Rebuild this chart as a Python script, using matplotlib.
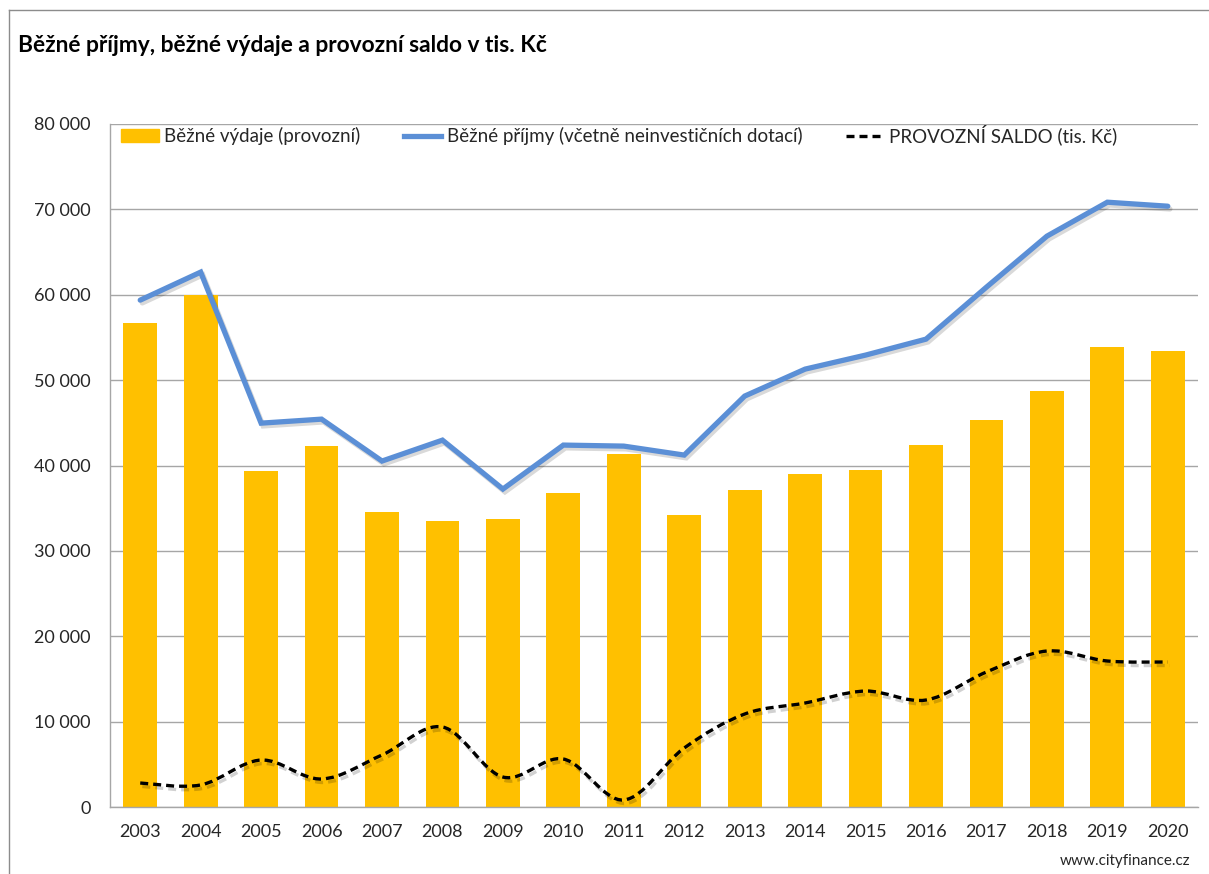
import numpy as np
import matplotlib
matplotlib.use("Agg")
import matplotlib.pyplot as plt
from matplotlib.path import Path
from matplotlib.patches import PathPatch
from matplotlib.lines import Line2D
from matplotlib.ticker import FuncFormatter
import matplotlib.patheffects as pe

plt.rcParams['font.family'] = ['Lato', 'DejaVu Sans']

years = ['2003', '2004', '2005', '2006', '2007', '2008', '2009', '2010', '2011',
         '2012', '2013', '2014', '2015', '2016', '2017', '2018', '2019', '2020']
vydaje = [56700, 59950, 39350, 42270, 34540, 33490, 33720, 36770, 41330,
          34190, 37120, 38990, 39460, 42390, 45320, 48710, 53860, 53400]
prijmy = [59370, 62650, 44960, 45430, 40520, 42970, 37240, 42390, 42270,
          41220, 48130, 51290, 52930, 54800, 60890, 66860, 70840, 70370]
saldo = [2810, 2580, 5500, 3280, 6090, 9370, 3510, 5620, 820,
         6910, 10890, 12180, 13580, 12530, 15810, 18270, 17100, 16980]

yellow = '#FFC000'
blue = '#5B8FD6'
grid_c = '#A6A6A6'
txt_c = '#262626'

fig = plt.figure(figsize=(12.09, 8.74), dpi=100)
ax = fig.add_axes([110/1209, 1-807/874, 1088/1209, 683/874])

x = np.arange(len(years))
ax.bar(x, vydaje, width=0.56, color=yellow, zorder=2)

shadow = [pe.SimpleLineShadow(offset=(1.5, -2), alpha=0.15), pe.Normal()]
ax.plot(x, prijmy, color=blue, lw=3.8, solid_joinstyle='miter',
        solid_capstyle='round', zorder=3, path_effects=shadow)

# smoothed dashed line (bezier through the data points, like Excel)
pts = np.column_stack([x, saldo]).astype(float)
ext = np.vstack([pts[0], pts, pts[-1]])
verts = [tuple(pts[0])]
codes = [Path.MOVETO]
for i in range(len(pts) - 1):
    p0, p1, p2, p3 = ext[i], ext[i+1], ext[i+2], ext[i+3]
    c1 = p1 + (p2 - p0) / 6
    c2 = p2 - (p3 - p1) / 6
    verts += [tuple(c1), tuple(c2), tuple(p2)]
    codes += [Path.CURVE4] * 3
patch = PathPatch(Path(verts, codes), fill=False, edgecolor='black', lw=2.4,
                  linestyle=(0, (2.4, 1.5)), capstyle='butt', zorder=4,
                  path_effects=[pe.SimpleLineShadow(offset=(1.5, -2.5), alpha=0.18),
                                pe.Normal()])
ax.add_patch(patch)

ax.set_xlim(-0.5, len(years) - 0.5)
ax.set_ylim(0, 80000)
ax.set_yticks(np.arange(0, 80001, 10000))
ax.yaxis.set_major_formatter(FuncFormatter(lambda v, p: f'{int(v):,}'.replace(',', ' ')))
ax.set_xticks(x)
ax.set_xticklabels(years)
ax.tick_params(axis='both', length=0, labelsize=13, colors=txt_c)
ax.tick_params(axis='y', pad=14)
ax.tick_params(axis='x', pad=12)
ax.grid(axis='y', color=grid_c, lw=1, zorder=0)
ax.set_axisbelow(True)
for s in ['top', 'right']:
    ax.spines[s].set_visible(False)
for s in ['left', 'bottom']:
    ax.spines[s].set_color(grid_c)
    ax.spines[s].set_linewidth(1)

handles = [plt.Rectangle((0, 0), 1, 1, color=yellow),
           Line2D([], [], color=blue, lw=3.8),
           Line2D([], [], color='black', lw=2.4, linestyle=(0, (2.4, 1.5)))]
labels = ['Běžné výdaje (provozní)', 'Běžné příjmy (včetně neinvestičních dotací)',
          'PROVOZNÍ SALDO (tis. Kč)']
ax.legend(handles, labels, loc='upper left', bbox_to_anchor=(0.0, 1.0 + 11/683), ncol=3,
          frameon=False, fontsize=13.5, handlelength=2.0, handleheight=0.7,
          handletextpad=0.3, columnspacing=2.3, borderaxespad=0.2,
          labelcolor=txt_c)

fig.text(18/1209, 1-45/874, 'Běžné příjmy, běžné výdaje a provozní saldo v tis. Kč',
         fontsize=16.4, fontweight='bold', color='black', va='center', ha='left')
fig.text(1190/1209, 1-861/874, 'www.cityfinance.cz', fontsize=11, color=txt_c,
         ha='right', va='center')

# outer chart frame
fig.add_artist(Line2D([9/1209, 9/1209], [0, 1-10/874], transform=fig.transFigure,
                      color='#8C8C8C', lw=1))
fig.add_artist(Line2D([9/1209, 1], [1-10/874, 1-10/874], transform=fig.transFigure,
                      color='#8C8C8C', lw=1))

fig.savefig('out.png', dpi=100)
